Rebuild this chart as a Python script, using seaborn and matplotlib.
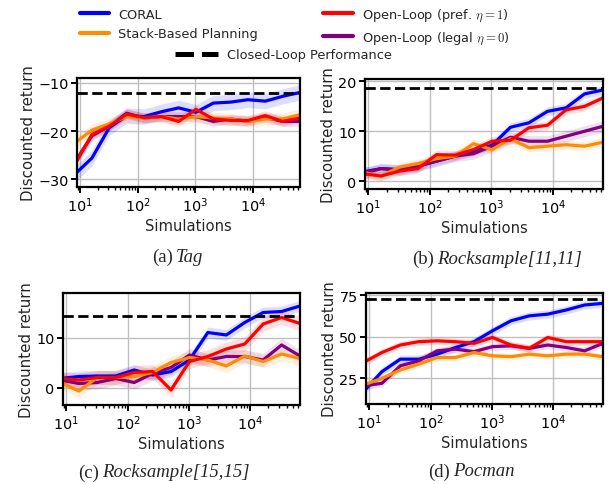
import numpy as np
import pandas as pd
import matplotlib
matplotlib.use("Agg")
import matplotlib.pyplot as plt
import seaborn as sns
from matplotlib.lines import Line2D

# simulations budget (powers of two)
sims = [8, 16, 32, 64, 128, 256, 512, 1024, 2048, 4096, 8192, 16384, 32768, 65536]

methods = ["CORAL", "Stack-Based Planning",
           r"Open-Loop (pref. $\eta=1$)", r"Open-Loop (legal $\eta=0$)"]
colors = ["blue", "darkorange", "red", "purple"]

# Tag
tag_coral = [-29, -25.6, -19.3, -16.8, -17, -16, -15.2, -16.1, -14.2, -14, -13.5, -13.8, -12.8, -12]
tag_stack = [-22.5, -19.8, -18.5, -17, -17.3, -17, -17.5, -17, -17.3, -17.5, -18, -17.5, -17.5, -16.6]
tag_pref = [-27, -20.7, -19, -16.5, -17.2, -17, -18, -15.5, -17.5, -17.8, -17.8, -16.8, -18, -17.3]
tag_legal = [-26.5, -21, -19, -16.3, -17.3, -17, -17, -17, -18, -17.5, -18, -17.2, -18, -18]
tag_err = [1.6, 1.2, 1.0, 1.0]
tag_closed = -12.2

# Rocksample[11,11]
rs11_coral = [1.8, 2.5, 2.3, 3, 4, 5, 6, 7.2, 10.8, 11.7, 14, 14.7, 17.5, 17.5]
rs11_coral[-1] = 18.3
rs11_stack = [1.8, 1.0, 2.8, 3.5, 4.5, 5, 7.5, 6.3, 8.5, 6.7, 7, 7.3, 7, 7.8]
rs11_pref = [1.5, 1.0, 2, 2.5, 5.3, 5.2, 6.3, 8, 8.2, 10.7, 11.2, 14.3, 15, 16.7]
rs11_legal = [1.5, 2.5, 2.2, 3, 4, 5, 5.5, 7, 8.8, 8, 8, 9, 10, 11]
rs11_err = [0.9, 0.9, 0.9, 1.1]
rs11_closed = 18.6

# Rocksample[15,15]
rs15_coral = [1.8, 2.2, 2.3, 2.3, 3.5, 2.5, 3.2, 5.5, 11, 10.5, 13, 15, 15.2, 16.3]
rs15_stack = [1, -0.7, 2, 2, 2.2, 3, 5, 6, 5.5, 4.3, 6.3, 5.2, 6.7, 5.8]
rs15_pref = [1.8, 1.5, 2, 2, 3, 3.2, -0.5, 5.2, 6.2, 7.7, 8.7, 12.7, 14, 12.8]
rs15_legal = [1.5, 0.8, 1, 1.8, 1, 2.8, 4, 6.5, 5.5, 6.2, 6.2, 5.5, 8.5, 6.3]
rs15_err = [1.1, 1.3, 1.4, 1.3]
rs15_closed = 14.4

# Pocman
poc_coral = [17, 29, 36.5, 36.5, 39.5, 43.5, 47, 53.5, 59.5, 62.5, 63.5, 66, 69, 70]
poc_stack = [21, 25, 30, 33.5, 37.5, 37.5, 40.5, 38.5, 38, 39.5, 38.5, 39.5, 39.5, 38]
poc_pref = [34.5, 40.5, 45, 47, 47.5, 47, 46, 49.5, 45, 43, 49.5, 47, 47, 47]
poc_legal = [20.5, 22, 32.5, 35.5, 41.5, 42.5, 41, 44, 44.5, 43, 45, 43.5, 41.5, 46]
poc_err = [2.5, 2.0, 2.2, 2.2]
poc_closed = 72.5

panels = [
    ("(a)", "Tag", [tag_coral, tag_stack, tag_pref, tag_legal], tag_err, tag_closed,
     (-31.6, -9), [-30, -20, -10], (77, 300, 79, 188), (176, 257)),
    ("(b)", "Rocksample[11,11]", [rs11_coral, rs11_stack, rs11_pref, rs11_legal], rs11_err, rs11_closed,
     (-1.6, 20.5), [0, 10, 20], (365, 603, 80, 190), (437, 259)),
    ("(c)", "Rocksample[15,15]", [rs15_coral, rs15_stack, rs15_pref, rs15_legal], rs15_err, rs15_closed,
     (-3.5, 18.9), [0, 10], (63, 300, 294, 406), (102, 473)),
    ("(d)", "Pocman", [poc_coral, poc_stack, poc_pref, poc_legal], poc_err, poc_closed,
     (9.6, 76.2), [25, 50, 75], (366, 603, 294, 405), (453, 472)),
]

sns.set_theme(style="whitegrid")
plt.rcParams["font.family"] = ["DejaVu Sans"]
plt.rcParams["mathtext.fontset"] = "cm"
plt.rcParams["axes.edgecolor"] = "black"
plt.rcParams["axes.linewidth"] = 1.6
plt.rcParams["grid.color"] = "#c0c0c0"
plt.rcParams["grid.linewidth"] = 1.0
plt.rcParams["xtick.bottom"] = True
plt.rcParams["ytick.left"] = True
plt.rcParams["xtick.color"] = "black"
plt.rcParams["ytick.color"] = "black"

W, H = 611, 485
fig = plt.figure(figsize=(W / 100, H / 100), dpi=100)
draw_order = [0, 3, 1, 2]

for prefix, name, series, errs, closed, ylim, yticks, box, cap in panels:
    l, r, t, b = box
    ax = fig.add_axes([l / W, 1 - b / H, (r - l) / W, (b - t) / H])
    rows = []
    for i in range(4):
        for x, y in zip(sims, series[i]):
            rows.append({"Simulations": x, "ret": y, "method": methods[i]})
    df = pd.DataFrame(rows)
    for i in draw_order:
        y = np.array(series[i])
        ax.fill_between(sims, y - errs[i], y + errs[i], color=colors[i], alpha=0.13, lw=0)
    for i in draw_order:
        sns.lineplot(data=df[df["method"] == methods[i]], x="Simulations", y="ret",
                     color=colors[i], lw=2.3, ax=ax, legend=False, estimator=None)
    ax.axhline(closed, color="black", ls="--", lw=2, zorder=5)
    ax.set_xscale("log")
    ax.set_xlim(8.8, 65536)
    ax.set_ylim(*ylim)
    ax.set_yticks(yticks)
    ax.set_xticks([10, 100, 1000, 10000])
    ax.tick_params(axis="both", which="major", labelsize=10.4, length=4, width=1.4, pad=2)
    ax.tick_params(axis="x", which="minor", length=2.5, width=1, bottom=True)
    ax.grid(True, which="major")
    ax.grid(False, which="minor")
    ax.set_xlabel("Simulations", fontsize=10.6, labelpad=3)
    ax.set_ylabel("Discounted return", fontsize=10.8, labelpad=2)
    cx, cy = cap
    fig.text((cx - 3) / W, 1 - cy / H, prefix, ha="right", va="center",
             family="Liberation Serif", fontsize=13.5)
    fig.text(cx / W, 1 - cy / H, name, ha="left", va="center",
             family="Liberation Serif", style="italic", fontsize=13.5)

handles = [Line2D([], [], color=c, lw=3) for c in colors]
fig.legend(handles, methods, ncol=2, loc="upper left", bbox_to_anchor=(72 / W, 1.0),
           frameon=False, fontsize=9.3, handlelength=2.3, columnspacing=5.0,
           labelspacing=0.5, handletextpad=0.7, borderaxespad=0.2)
closed_h = [Line2D([], [], color="black", lw=3.6, ls="--")]
fig.legend(closed_h, ["Closed-Loop Performance"], loc="upper left",
           bbox_to_anchor=(170 / W, 1 - 44 / H), frameon=False, fontsize=9.3,
           handlelength=3.3, handletextpad=0.7, borderaxespad=0)

fig.savefig("out.png", dpi=100)
